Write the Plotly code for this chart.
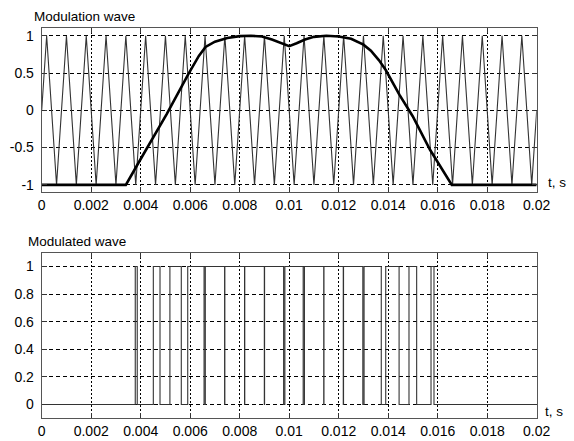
import numpy as np
import plotly.graph_objects as go

# ---------------- data (times in ms) ----------------
carrier_peaks_ms = [0.2, 1.0, 1.8, 2.6, 3.4, 4.2, 5.0, 5.8, 6.6, 7.4, 8.2, 9.0, 9.8,
                    10.6, 11.4, 12.2, 13.0, 13.8, 14.6, 15.4, 16.2, 17.0, 17.8, 18.6, 19.4]
carrier_troughs_ms = [0.6, 1.4, 2.2, 3.0, 3.8, 4.6, 5.4, 6.2, 7.0, 7.8, 8.6, 9.4, 10.2,
                      11.0, 11.8, 12.6, 13.4, 14.2, 15.0, 15.8, 16.6, 17.4, 18.2, 19.0, 19.8]
carrier_start_end = [(0.0, 0.0), (20.0, 0.0)]

mod_t_ms = [0.0, 3.4, 3.9, 4.45, 4.78, 5.05, 5.93, 6.35, 6.62, 7.0, 7.5, 8.0, 8.45,
            8.9, 9.3, 9.7, 10.0, 10.3, 10.64, 11.0, 11.5, 12.0, 12.5, 13.0, 13.3,
            13.63, 13.9, 14.45, 14.99, 15.69, 16.57, 20.0]
mod_v = [-1.0, -1.0, -0.71, -0.40, -0.21, -0.05, 0.49, 0.73, 0.85, 0.92, 0.97, 0.995, 1.0,
         0.99, 0.95, 0.90, 0.86, 0.90, 0.95, 0.985, 1.0, 0.99, 0.96, 0.88, 0.80,
         0.67, 0.54, 0.21, -0.08, -0.53, -1.0, -1.0]

pwm_rise_ms = [3.78, 4.51, 5.18, 5.90, 6.61, 7.40, 8.205, 9.005, 9.825, 10.615, 11.405,
               12.195, 13.025, 13.90, 14.84, 15.73]
pwm_fall_ms = [3.86, 4.78, 5.64, 6.56, 7.39, 8.195, 8.995, 9.775, 10.565, 11.395, 12.185,
               12.975, 13.72, 14.44, 15.15, 15.85]

x_tickvals = [0, 0.002, 0.004, 0.006, 0.008, 0.01, 0.012, 0.014, 0.016, 0.018, 0.02]
x_ticktext = ["0", "0.002", "0.004", "0.006", "0.008", "0.01", "0.012", "0.014", "0.016", "0.018", "0.02"]
y1_tickvals = [-1, -0.5, 0, 0.5, 1]
y1_ticktext = ["-1", "-0.5", "0", "0.5", "1"]
y2_tickvals = [0, 0.2, 0.4, 0.6, 0.8, 1]
y2_ticktext = ["0", "0.2", "0.4", "0.6", "0.8", "1"]

# ---------------- build traces ----------------
pts = [carrier_start_end[0]]
for p, tr in zip(carrier_peaks_ms, carrier_troughs_ms):
    pts.append((p, 1.0))
    pts.append((tr, -1.0))
pts.append(carrier_start_end[1])
car_t = np.array([p[0] for p in pts]) / 1000.0
car_v = np.array([p[1] for p in pts])

m_t = np.array(mod_t_ms) / 1000.0
m_v = np.array(mod_v)

px_, py_ = [0.0], [0.0]
for r, f in zip(pwm_rise_ms, pwm_fall_ms):
    px_ += [r, r, f, f]
    py_ += [0, 1, 1, 0]
px_.append(20.0)
py_.append(0)
pwm_t = np.array(px_) / 1000.0
pwm_v = np.array(py_)

fig = go.Figure()
fig.add_trace(go.Scatter(x=car_t, y=car_v, mode="lines", line=dict(color="#333333", width=1.1),
                         xaxis="x", yaxis="y", showlegend=False, hoverinfo="skip"))
fig.add_trace(go.Scatter(x=m_t, y=m_v, mode="lines", line=dict(color="black", width=2.6),
                         xaxis="x", yaxis="y", showlegend=False, hoverinfo="skip"))
fig.add_trace(go.Scatter(x=pwm_t, y=pwm_v, mode="lines", line=dict(color="#333333", width=1.1),
                         xaxis="x2", yaxis="y2", showlegend=False, hoverinfo="skip"))

W, H = 574, 441
xd = [41.7 / W, 536.7 / W]
font = dict(family="Liberation Sans, Arial, sans-serif", size=13.5, color="black")
tfont = dict(family="Liberation Sans, Arial, sans-serif", size=14, color="black")

common_x = dict(range=[0, 0.02], tickvals=x_tickvals, ticktext=x_ticktext, automargin=False,
                showgrid=True, gridcolor="black", gridwidth=1, griddash="2px,2px",
                showline=True, linecolor="#555555", linewidth=1, mirror="allticks",
                ticks="inside", ticklen=5, tickcolor="#333333", zeroline=False,
                tickfont=tfont, domain=xd, fixedrange=True)
common_y = dict(showgrid=True, gridcolor="black", gridwidth=1, griddash="4px,3px", automargin=False,
                showline=True, linecolor="#555555", linewidth=1, mirror="allticks",
                ticks="inside", ticklen=5, tickcolor="#333333", zeroline=False,
                tickfont=tfont, fixedrange=True, ticklabelstandoff=4)

fig.update_layout(
    template="none",
    width=W, height=H, autosize=False,
    margin=dict(l=0, r=0, t=0, b=0, pad=0),
    paper_bgcolor="white", plot_bgcolor="white",
    font=font,
    xaxis=dict(common_x, anchor="y"),
    yaxis=dict(common_y, range=[-1.1, 1.1], tickvals=y1_tickvals, ticktext=y1_ticktext,
               domain=[(H - 192.3) / H, (H - 28.3) / H], anchor="x"),
    xaxis2=dict(common_x, anchor="y2"),
    yaxis2=dict(common_y, range=[-0.1, 1.1], tickvals=y2_tickvals, ticktext=y2_ticktext,
                domain=[(H - 418.3) / H, (H - 252.7) / H], anchor="x2"),
    annotations=[
        dict(text="Modulation wave", xref="paper", yref="paper", x=32 / W, y=1 - 16.7 / H,
             xanchor="left", yanchor="middle", showarrow=False, font=font),
        dict(text="Modulated wave", xref="paper", yref="paper", x=26 / W, y=1 - 241.7 / H,
             xanchor="left", yanchor="middle", showarrow=False, font=font),
        dict(text="t, s", xref="paper", yref="paper", x=546 / W, y=1 - 182.7 / H,
             xanchor="left", yanchor="middle", showarrow=False, font=font),
        dict(text="t, s", xref="paper", yref="paper", x=543 / W, y=1 - 411 / H,
             xanchor="left", yanchor="middle", showarrow=False, font=font),
    ],
)

fig.write_html("out.html", config={"displayModeBar": False},
               post_script="document.body.style.margin='0px';document.body.style.overflow='hidden';")
